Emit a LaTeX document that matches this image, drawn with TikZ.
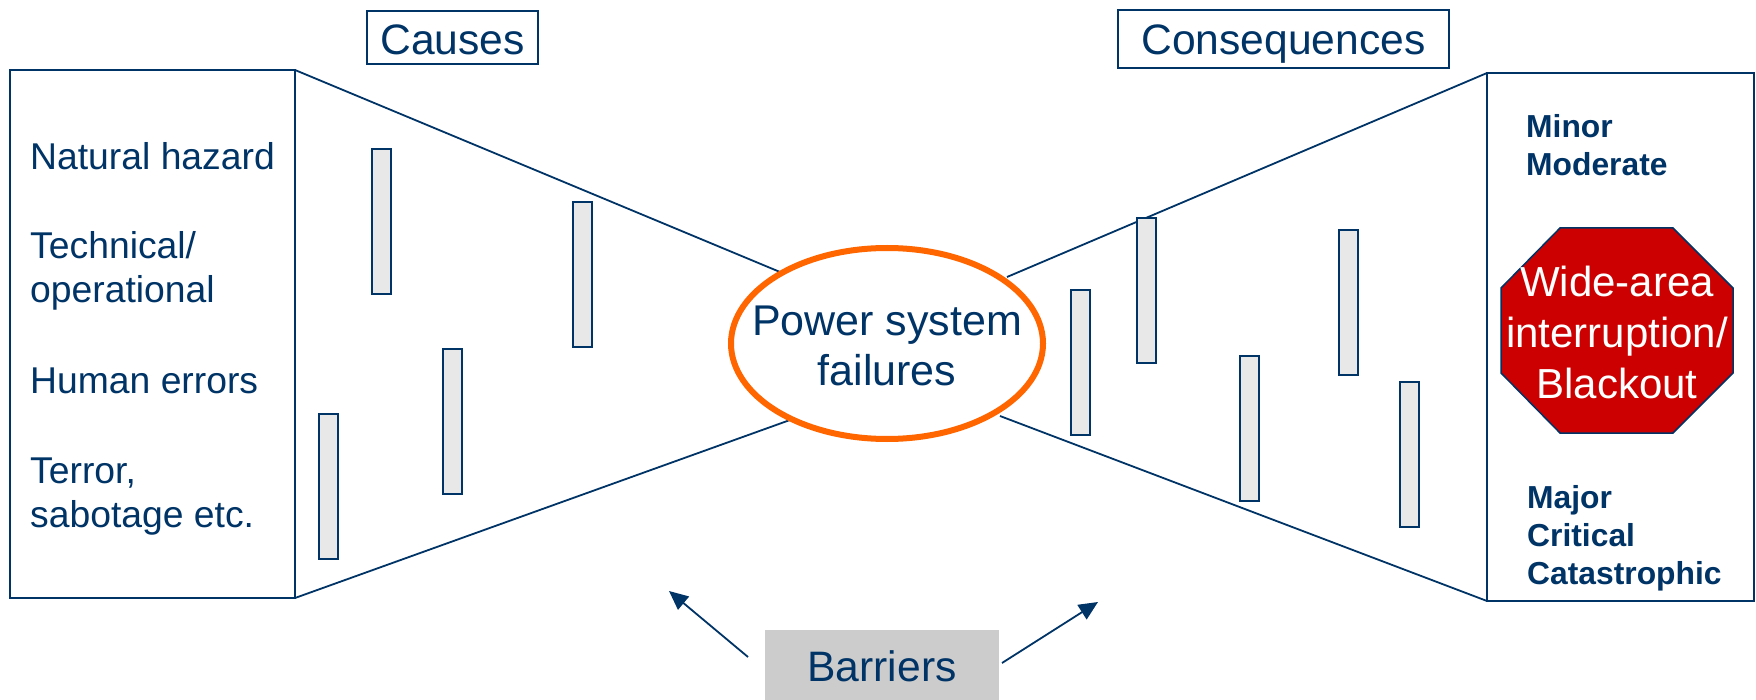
\documentclass[tikz,border=0pt]{standalone}
\usepackage{fontspec}
\setmainfont{Liberation Sans}
\usetikzlibrary{shapes.geometric,arrows.meta}
\definecolor{navy}{HTML}{003366}
\definecolor{flame}{HTML}{FF6600}
\definecolor{stopred}{HTML}{CC0000}
\definecolor{panelgrey}{HTML}{CCCCCC}
\definecolor{bargrey}{HTML}{E8E8E8}
\newcommand{\fs}[2]{\fontsize{#1}{#2}\selectfont}
\tikzset{
  panel/.style={draw=navy,line width=2pt,inner sep=0pt,outer sep=0pt,anchor=north west},
  titlebox/.style={draw=navy,line width=2pt,inner sep=0pt,outer sep=0pt,anchor=base,text=navy,font=\fs{42.6}{50}},
  bar/.style={draw=navy,line width=1.6pt,fill=bargrey,inner sep=0pt,outer sep=0pt,anchor=north west,minimum width=19pt,minimum height=145pt},
  wire/.style={draw=navy,line width=1.8pt},
  pointer/.style={draw=navy,line width=1.8pt,-{Triangle[length=19pt,width=17pt]}},
  listtext/.style={inner sep=0pt,anchor=base west,text=navy,align=left,font=\fs{37.3}{44}},
  boldtext/.style={inner sep=0pt,anchor=base west,text=navy,align=left,font=\fs{31.8}{38}\bfseries},
}
\begin{document}
\begin{tikzpicture}[x=1pt,y=-1pt]
\useasboundingbox (0,0) rectangle (1756,700);
\node[panel,minimum width=285pt,minimum height=528pt] (leftpanel) at (10,70) {};
\node[panel,minimum width=267pt,minimum height=528pt] (rightpanel) at (1487,73) {};
\node[titlebox,minimum width=171pt,text height=44pt,text depth=9pt] (causes) at (452.5,55) {Causes};
\node[titlebox,minimum width=331pt,text height=45pt,text depth=13pt] (conseq) at (1283.5,55) {Consequences};
\coordinate (cUL) at (780,272);
\coordinate (cLL) at (790,420);
\coordinate (cUR) at (1007,277);
\coordinate (cLR) at (1000,416);
\draw[wire] (leftpanel.north east) -- (cUL);
\draw[wire] (leftpanel.south east) -- (cLL);
\draw[wire] (rightpanel.north west) -- (cUR);
\draw[wire] (rightpanel.south west) -- (cLR);
\node[bar] (b1) at (372,149) {};
\node[bar] (b2) at (573,202) {};
\node[bar] (b3) at (443,349) {};
\node[bar] (b4) at (319,414) {};
\node[bar] (b5) at (1071,290) {};
\node[bar] (b6) at (1137,218) {};
\node[bar] (b7) at (1240,356) {};
\node[bar] (b8) at (1339,230) {};
\node[bar] (b9) at (1400,382) {};
\node[ellipse,draw=flame,line width=6pt,fill=white,inner sep=-30pt,outer sep=0pt,minimum width=312pt,minimum height=191pt,text=navy,align=center,font=\fs{43}{50}] (core) at (887,343.5) {\rule{0pt}{35pt}Power system\\failures};
\node[listtext] (n1) at (30,170) {Natural hazard};
\node[listtext] (n2) at (30,303) {Technical/\\operational};
\node[listtext] (n3) at (30,393.5) {Human errors};
\node[listtext] (n4) at (30,527.5) {Terror,\\sabotage etc.};
\node[boldtext] (s1) at (1526,176) {Minor\\Moderate};
\node[boldtext] (s2) at (1527,584) {Major\\Critical\\Catastrophic};
\draw[draw=navy,line width=1.5pt,fill=stopred] (1560,228) -- (1673,228) -- (1733,288) -- (1733,373) -- (1673,433) -- (1560,433) -- (1501,373) -- (1501,288) -- cycle;
\node[inner sep=0pt,text=white,align=center,font=\fs{42}{51}] (stop) at (1617,332.5) {Wide-area\\interruption/\\Blackout};
\node[fill=panelgrey,inner sep=0pt,outer sep=0pt,anchor=base,minimum width=234pt,text height=51pt,text depth=19pt,text=navy,font=\fs{42.6}{50}] (barriers) at (882,681) {Barriers};
\coordinate (aL) at (669,591);
\coordinate (aR) at (1098,602);
\coordinate (sL) at (748,657);
\coordinate (sR) at (1002,663);
\draw[pointer] (sL) -- (aL);
\draw[pointer] (sR) -- (aR);
\end{tikzpicture}
\end{document}
